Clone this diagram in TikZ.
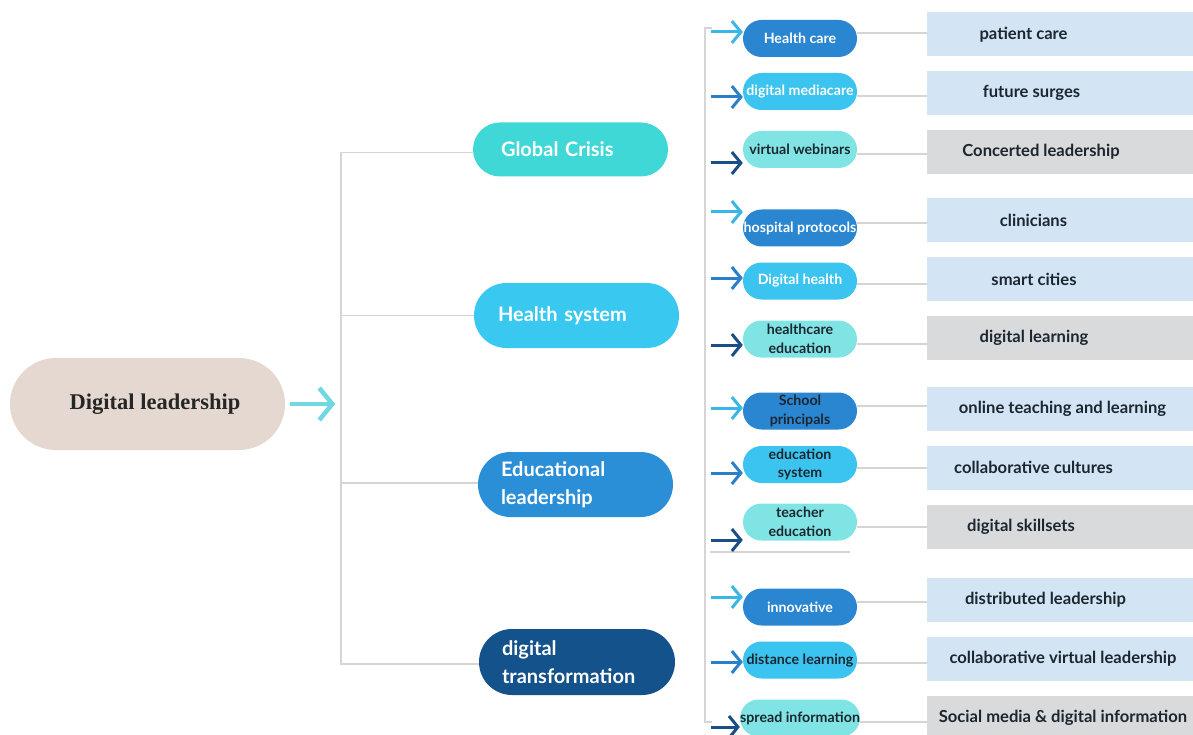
\documentclass[tikz,border=0pt]{standalone}
\usepackage{fontspec}
\setmainfont{Lato}
\newfontfamily\rootfont{Liberation Serif}
\usetikzlibrary{arrows.meta}
\definecolor{rootfill}{HTML}{E4D8D1}
\definecolor{cGC}{HTML}{3FD8D6}
\definecolor{cHS}{HTML}{38C8F0}
\definecolor{cEL}{HTML}{2B8FD8}
\definecolor{cDT}{HTML}{13528A}
\definecolor{pDark}{HTML}{2A86D1}
\definecolor{pSky}{HTML}{3AC4EF}
\definecolor{pTurq}{HTML}{80E4E4}
\definecolor{boxBlue}{HTML}{D3E5F4}
\definecolor{boxGray}{HTML}{D9DADB}
\definecolor{lineGray}{HTML}{D5D5D5}
\definecolor{aLight}{HTML}{3AB6E6}
\definecolor{aMid}{HTML}{2A7FC8}
\definecolor{aDark}{HTML}{1B4E86}
\definecolor{rootArrow}{HTML}{6FD8E0}
\definecolor{darkText}{HTML}{1C2630}
\begin{document}
\begin{tikzpicture}[x=1pt,y=-1pt,
  rootpill/.style={fill=rootfill, minimum width=275pt, minimum height=92pt, rounded corners=46pt, inner sep=0pt,
    font=\rootfont\bfseries\fontsize{22.5}{26}\selectfont, text=black!85},
  lone/.style={inner xsep=0pt, inner ysep=0pt, align=left, text=white,
    font=\bfseries\fontsize{20}{28}\selectfont},
  ltwo/.style={minimum width=114pt, minimum height=37pt, rounded corners=18.5pt, inner sep=0pt,
    align=center, font=\bfseries\fontsize{14.2}{18.5}\selectfont},
  bbox/.style={rectangle, minimum width=266pt, minimum height=44pt, inner sep=0pt,
    font=\bfseries\fontsize{16.6}{19}\selectfont, text=darkText},
  conn/.style={draw=lineGray, line width=1.5pt},
  arr/.style={line width=3pt, -{Straight Barb[length=9pt,width=22pt]}},
  rarr/.style={line width=4.5pt, draw=rootArrow, -{Straight Barb[length=13pt,width=32pt]}}
]
\useasboundingbox (0,0) rectangle (1193,735);
\fill[white] (0,0) rectangle (1193,735);

% root
\node[rootpill] (root) at (147.5,404) {\hspace*{15pt}Digital leadership};
\draw[rarr] ([xshift=5pt]root.east) -- ++(45,0);

% level 1
\node[lone, fill=cGC, minimum width=195pt, minimum height=54pt, rounded corners=27pt, text width=139pt] (g1) at (570.5,149.5) {Global Crisis};
\node[lone, fill=cHS, minimum width=205pt, minimum height=65pt, rounded corners=32.5pt, text width=157pt] (g2) at (576.5,315.5) {Health system};
\node[lone, fill=cEL, minimum width=195pt, minimum height=65pt, rounded corners=32.5pt, text width=149pt] (g3) at (575.5,484.5) {Educational\\leadership};
\node[lone, fill=cDT, minimum width=196pt, minimum height=66pt, rounded corners=33pt, text width=150pt] (g4) at (577,662) {digital\\transformation};

\coordinate (lt) at (341,0);
\draw[conn] ([yshift=-3pt]g1.west) -- ([yshift=-3pt]g1.west -| lt) -- ([yshift=-2pt]g4.west -| lt) -- ([yshift=-2pt]g4.west);
\draw[conn] (g2.west) -- (g2.west -| lt);
\draw[conn] ([yshift=1.5pt]g3.west) -- ([yshift=1.5pt]g3.west -| lt);

% right trunk
\coordinate (rt1) at (705,28);
\coordinate (rt2) at (705,722);
\draw[conn] ([xshift=7pt]rt1) -- (rt1) -- (rt2) -- ([xshift=7pt]rt2);
\coordinate (te1) at (710,552);
\coordinate (te2) at (850,552);
\draw[conn] (te1) -- (te2);

% level 2 pills
\node[ltwo, fill=pDark, text=white] (p1) at (800,38.5) {Health care};
\node[ltwo, fill=pSky, text=white] (p2) at (800,91.5) {digital mediacare};
\node[ltwo, fill=pTurq, text=darkText] (p3) at (800,149.5) {virtual webinars};
\node[ltwo, fill=pDark, text=white] (p4) at (800,228) {hospital protocols};
\node[ltwo, fill=pSky, text=white] (p5) at (800,281) {Digital health};
\node[ltwo, fill=pTurq, text=darkText] (p6) at (800,339) {healthcare\\education};
\node[ltwo, fill=pDark, text=darkText] (p7) at (800,411) {School\\principals};
\node[ltwo, fill=pSky, text=darkText] (p8) at (800,464.5) {education\\system};
\node[ltwo, fill=pTurq, text=darkText] (p9) at (800,522) {teacher\\education};
\node[ltwo, fill=pDark, text=white] (p10) at (800,607) {innovative};
\node[ltwo, fill=pSky, text=darkText] (p11) at (800,660) {distance learning};
\node[ltwo, fill=pTurq, text=darkText] (p12) at (800,718) {spread information};

% arrows to level 2
\coordinate (a1) at (711,32);
\coordinate (a2) at (711,97);
\coordinate (a3) at (711,163);
\coordinate (a4) at (711,212);
\coordinate (a5) at (711,278);
\coordinate (a6) at (711,345);
\coordinate (a7) at (711,408);
\coordinate (a8) at (711,473);
\coordinate (a9) at (711,540);
\coordinate (a10) at (711,597);
\coordinate (a11) at (711,662);
\coordinate (a12) at (711,727);
\draw[arr, draw=aLight] (a1) -- (a1 -| p1.west);
\draw[arr, draw=aMid] (a2) -- (a2 -| p2.west);
\draw[arr, draw=aDark] (a3) -- (a3 -| p3.west);
\draw[arr, draw=aLight] (a4) -- (a4 -| p4.west);
\draw[arr, draw=aMid] (a5) -- (a5 -| p5.west);
\draw[arr, draw=aDark] (a6) -- (a6 -| p6.west);
\draw[arr, draw=aLight] (a7) -- (a7 -| p7.west);
\draw[arr, draw=aMid] (a8) -- (a8 -| p8.west);
\draw[arr, draw=aDark] (a9) -- (a9 -| p9.west);
\draw[arr, draw=aLight] (a10) -- (a10 -| p10.west);
\draw[arr, draw=aMid] (a11) -- (a11 -| p11.west);
\draw[arr, draw=aDark] (a12) -- (a12 -| p12.west);

% boxes
\node[bbox, fill=boxBlue] (b1) at (1060,34.5) {\hspace*{-73pt}patient care};
\node[bbox, fill=boxBlue] (b2) at (1060,93) {\hspace*{-57pt}future surges};
\node[bbox, fill=boxGray] (b3) at (1060,152) {\hspace*{-38pt}Concerted leadership};
\node[bbox, fill=boxBlue] (b4) at (1060,220.5) {\hspace*{-53pt}clinicians};
\node[bbox, fill=boxBlue] (b5) at (1060,279) {\hspace*{-52pt}smart cities};
\node[bbox, fill=boxGray] (b6) at (1060,338) {\hspace*{-52pt}digital learning};
\node[bbox, fill=boxBlue] (b7) at (1060,409) {\hspace*{5pt}online teaching and learning};
\node[bbox, fill=boxBlue] (b8) at (1060,467.5) {\hspace*{-53pt}collaborative cultures};
\node[bbox, fill=boxGray] (b9) at (1060,527) {\hspace*{-78pt}digital skillsets};
\node[bbox, fill=boxBlue] (b10) at (1060,599.5) {\hspace*{-29pt}distributed leadership};
\node[bbox, fill=boxBlue] (b11) at (1060,659) {\hspace*{6pt}collaborative virtual leadership};
\node[bbox, fill=boxGray] (b12) at (1060,718) {\hspace*{6pt}Social media \& digital information};

% connectors level 2 -> boxes
\draw[conn] ([yshift=5.5pt]p1.east) -- ([yshift=5.5pt]p1.east -| b1.west);
\draw[conn] ([yshift=-4.5pt]p2.east) -- ([yshift=-4.5pt]p2.east -| b2.west);
\draw[conn] ([yshift=-4.5pt]p3.east) -- ([yshift=-4.5pt]p3.east -| b3.west);
\draw[conn] ([yshift=5pt]p4.east) -- ([yshift=5pt]p4.east -| b4.west);
\draw[conn] ([yshift=-3pt]p5.east) -- ([yshift=-3pt]p5.east -| b5.west);
\draw[conn] ([yshift=-5pt]p6.east) -- ([yshift=-5pt]p6.east -| b6.west);
\draw[conn] ([yshift=5pt]p7.east) -- ([yshift=5pt]p7.east -| b7.west);
\draw[conn] ([yshift=-3.5pt]p8.east) -- ([yshift=-3.5pt]p8.east -| b8.west);
\draw[conn] ([yshift=-5pt]p9.east) -- ([yshift=-5pt]p9.east -| b9.west);
\draw[conn] ([yshift=5pt]p10.east) -- ([yshift=5pt]p10.east -| b10.west);
\draw[conn] ([yshift=-3pt]p11.east) -- ([yshift=-3pt]p11.east -| b11.west);
\draw[conn] ([yshift=-4pt]p12.east) -- ([yshift=-4pt]p12.east -| b12.west);
\end{tikzpicture}
\end{document}
